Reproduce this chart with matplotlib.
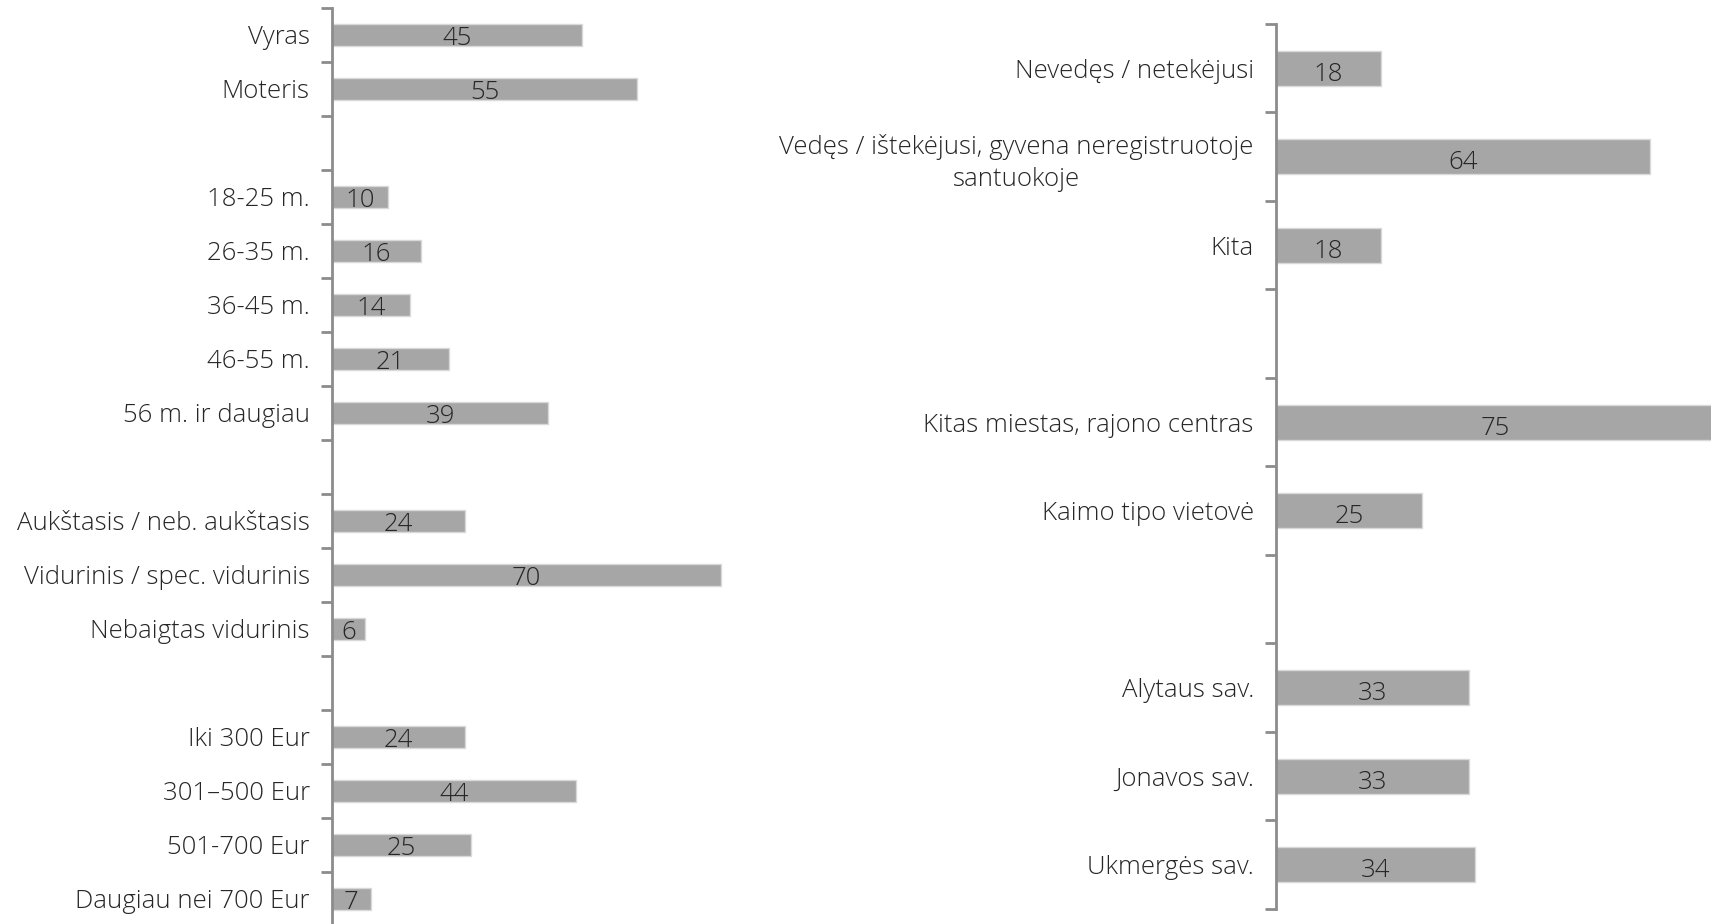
import matplotlib
matplotlib.use("Agg")
import matplotlib.pyplot as plt
import numpy as np

plt.rcParams['font.family'] = ['Open Sans', 'DejaVu Sans']

# left panel: blank strings are empty slots between groups
left_labels = ['Vyras', 'Moteris', '',
               '18-25 m.', '26-35 m.', '36-45 m.', '46-55 m.', '56 m. ir daugiau', '',
               'Aukštasis / neb. aukštasis', 'Vidurinis / spec. vidurinis', 'Nebaigtas vidurinis', '',
               'Iki 300 Eur', '301–500 Eur', '501-700 Eur', 'Daugiau nei 700 Eur']
left_values = [45, 55, None,
               10, 16, 14, 21, 39, None,
               24, 70, 6, None,
               24, 44, 25, 7]

right_labels = ['Nevedęs / netekėjusi',
                'Vedęs / ištekėjusi, gyvena neregistruotoje\nsantuokoje',
                'Kita', '',
                'Kitas miestas, rajono centras', 'Kaimo tipo vietovė', '',
                'Alytaus sav.', 'Jonavos sav.', 'Ukmergės sav.']
right_values = [18, 64, 18, None, 75, 25, None, 33, 33, 34]

bar_color = '#a6a6a6'
edge_color = '#d9d9d9'
spine_color = '#8c8c8c'
text_color = '#262626'
fsize = 18.5

W, H = 1711, 924
fig = plt.figure(figsize=(W / 100, H / 100), dpi=100)

# axes rectangles in pixels: left, top, width, height
ax_l = fig.add_axes([332 / W, (H - 926) / H, 444 / W, 918 / H])
ax_r = fig.add_axes([1276 / W, (H - 909) / H, 435 / W, 885 / H])


def draw(ax, labels, values, xmax):
    n = len(labels)
    pos = np.arange(n)
    for p, v in zip(pos, values):
        if v is None:
            continue
        ax.barh(p, v, height=0.4, color=bar_color, edgecolor=edge_color, linewidth=1.0)
        ax.text(v / 2, p + 0.07, str(v), ha='center', va='center',
                fontsize=fsize, color=text_color, fontweight='light')
    ax.set_ylim(n - 0.5, -0.5)
    ax.set_xlim(0, xmax)
    ax.set_yticks(pos)
    ax.set_yticklabels(labels, fontsize=fsize, color=text_color, fontweight='light',
                       multialignment='center', linespacing=1.35)
    ax.set_yticks(np.arange(n + 1) - 0.5, minor=True)
    ax.tick_params(axis='y', which='major', length=0, pad=16)
    ax.tick_params(axis='y', which='minor', length=8, width=2, color=spine_color, direction='out')
    ax.set_xticks([])
    for s in ['top', 'right', 'bottom']:
        ax.spines[s].set_visible(False)
    ax.spines['left'].set_color(spine_color)
    ax.spines['left'].set_linewidth(2)


draw(ax_l, left_labels, left_values, 80)
draw(ax_r, right_labels, right_values, 74.5)

fig.savefig('out.png', dpi=100, facecolor='white')
